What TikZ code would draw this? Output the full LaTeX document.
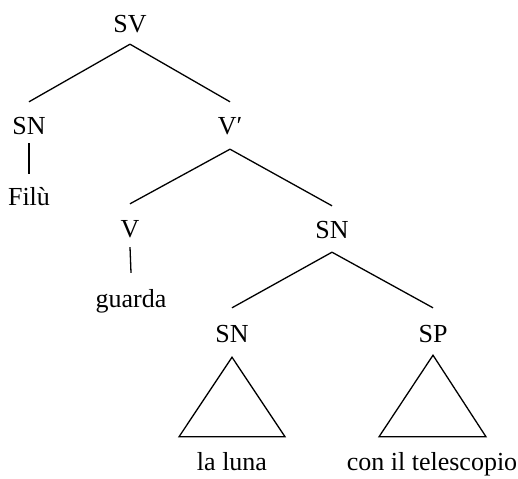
\documentclass[tikz,border=0pt]{standalone}
\usepackage{fontspec}
\setmainfont{Liberation Serif}
\begin{document}
\begin{tikzpicture}[x=1pt,y=-1pt,
  lbl/.style={inner sep=0pt,anchor=base,text height=17pt,text depth=0pt,
    font=\fontsize{26}{31}\selectfont},
  branch/.style={line width=1.3pt,line join=miter}]
\useasboundingbox (0,0) rectangle (518,478);

% category labels and words, placed by baseline
\node[lbl] (sv)     at (130,33)  {SV};
\node[lbl] (sn1)    at (29,135)  {SN};
\node[lbl] (vbar)   at (230,135) {V′};
\node[lbl] (filu)   at (29,205)  {Filù};
\node[lbl] (v)      at (130,237) {V};
\node[lbl] (guarda) at (131,307) {guarda};
\node[lbl] (sn2)    at (332,238) {SN};
\node[lbl] (sn3)    at (232,342) {SN};
\node[lbl] (sp)     at (433,342) {SP};
\node[lbl] (luna)   at (232,470) {la luna};
\node[lbl] (tel)    at (432,470) {con il telescopio};

% branches
\draw[branch] ([yshift=-11pt]sv.south) -- ([yshift=16pt]sn1.north);
\draw[branch] ([yshift=-11pt]sv.south) -- ([yshift=16pt]vbar.north);
\draw[branch] ([yshift=-8pt]sn1.south) -- ([yshift=14pt]filu.north);
\draw[branch] ([yshift=-14pt]vbar.south) -- ([yshift=16pt]v.north);
\draw[branch] ([yshift=-14pt]vbar.south) -- ([yshift=15pt]sn2.north);
\draw[branch] ([yshift=-10pt]v.south) -- ([yshift=17pt]guarda.north);
\draw[branch] ([yshift=-14pt]sn2.south) -- ([yshift=17pt]sn3.north);
\draw[branch] ([yshift=-14pt]sn2.south) -- ([yshift=17pt]sp.north);

% roofs over unanalysed phrases
\draw[branch] ([yshift=-15pt]sn3.south) -- ([xshift=-53pt,yshift=16pt]luna.north)
  -- ([xshift=53pt,yshift=16pt]luna.north) -- cycle;
\draw[branch] ([yshift=-13pt]sp.south) -- ([xshift=-53pt,yshift=16pt]tel.north)
  -- ([xshift=54pt,yshift=16pt]tel.north) -- cycle;
\end{tikzpicture}
\end{document}
